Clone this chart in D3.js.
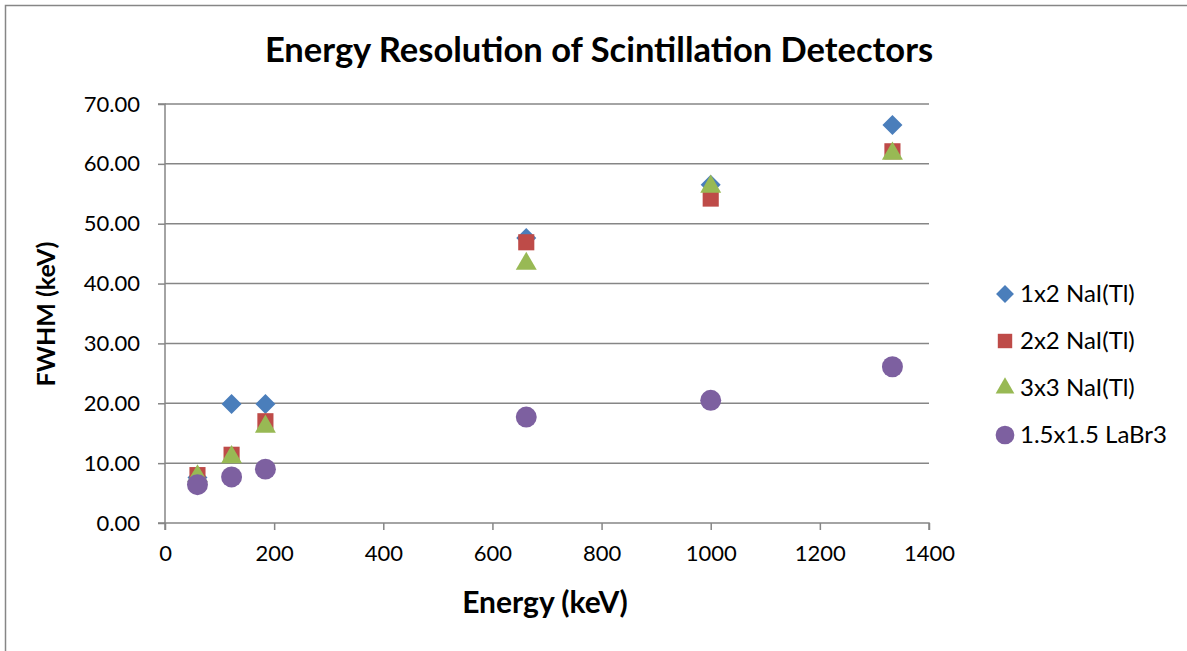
<!DOCTYPE html>
<html><head><meta charset="utf-8">
<script src="https://cdn.jsdelivr.net/npm/d3@7"></script>
<style>body{margin:0;background:#fff}svg{display:block}text{font-family:Lato,"Open Sans",sans-serif}</style>
</head><body><svg id="c" width="1187" height="651"></svg>
<script>
const title = "Energy Resolution of Scintillation Detectors";
const xLabel = "Energy (keV)";
const yLabel = "FWHM (keV)";
const energies = [59.5, 122, 184, 662, 1000, 1333];
const seriesNames = ["1x2 NaI(Tl)", "2x2 NaI(Tl)", "3x3 NaI(Tl)", "1.5x1.5 LaBr3"];
const nai1x2 = [7.6, 19.9, 19.9, 47.6, 56.5, 66.5];
const nai2x2 = [8.0, 11.4, 17.0, 46.9, 54.2, 62.1];
const nai3x3 = [7.8, 11.0, 16.1, 43.3, 56.2, 61.7];
const labr3 = [6.4, 7.7, 9.0, 17.7, 20.5, 26.1];
const xTicks = [0, 200, 400, 600, 800, 1000, 1200, 1400];
const yTicks = [0, 10, 20, 30, 40, 50, 60, 70];

const series = [nai1x2, nai2x2, nai3x3, labr3];
const colors = ["#4a7ebb", "#be4b48", "#98b954", "#7d60a0"];
const diamond = { draw(ctx, size) { const r = Math.sqrt(size / 2); ctx.moveTo(0, -r); ctx.lineTo(r, 0); ctx.lineTo(0, r); ctx.lineTo(-r, 0); ctx.closePath(); } };
const shapes = [diamond, d3.symbolSquare, d3.symbolTriangle, d3.symbolCircle];
const sizes = [200, 260, 190, 345];

const svg = d3.select("#c");
const pL = 165, pR = 929, pT = 104, pB = 523;
const x = d3.scaleLinear().domain([0, 1400]).range([pL, pR]);
const y = d3.scaleLinear().domain([0, 70]).range([pB, pT]);

// chart border
svg.append("path").attr("d", "M5.5,651 V5.5 H1187").attr("fill", "none").attr("stroke", "#868686").attr("stroke-width", 1.5);

// gridlines
svg.append("g").selectAll("line").data(yTicks.filter(d => d > 0)).join("line")
  .attr("x1", pL).attr("x2", pR).attr("y1", d => y(d)).attr("y2", d => y(d))
  .attr("stroke", "#868686").attr("stroke-width", 1.5);

// axes
const yAxis = d3.axisLeft(y).tickValues(yTicks).tickFormat(d3.format(".2f")).tickSize(7).tickPadding(18);
const gy = svg.append("g").attr("transform", `translate(${pL},0)`).call(yAxis);
const xAxis = d3.axisBottom(x).tickValues(xTicks).tickFormat(d3.format("d")).tickSize(7).tickPadding(15);
const gx = svg.append("g").attr("transform", `translate(0,${pB})`).call(xAxis);
[gx, gy].forEach(g => {
  g.select(".domain").attr("stroke", "#868686").attr("stroke-width", 1.5);
  g.selectAll(".tick line").attr("stroke", "#868686").attr("stroke-width", 1.5);
  g.selectAll(".tick text").attr("fill", "#000").style("font-size", "22px").style("font-family", "Lato,sans-serif");
});
gy.select(".domain").attr("d", `M-7,${pB}H0V${pT}H-7`);
gx.select(".domain").attr("d", `M${pL},7V0H${pR}V7`);

// points
series.forEach((s, i) => {
  svg.append("g").selectAll("path").data(s).join("path")
    .attr("transform", (d, j) => `translate(${x(energies[j])},${y(d)})`)
    .attr("d", d3.symbol().type(shapes[i]).size(sizes[i]))
    .attr("fill", colors[i]);
});

// title & labels
svg.append("text").attr("x", 599).attr("y", 62).attr("text-anchor", "middle")
  .style("font-size", "34.5px").style("font-weight", "bold").text(title);
svg.append("text").attr("x", 545).attr("y", 613).attr("text-anchor", "middle")
  .style("font-size", "30px").style("font-weight", "bold").text(xLabel);
svg.append("text").attr("transform", "translate(55,314) rotate(-90)").attr("text-anchor", "middle")
  .style("font-size", "25px").style("font-weight", "bold").text(yLabel);

// legend
const lg = svg.append("g");
seriesNames.forEach((n, i) => {
  const yy = 294 + i * 47;
  lg.append("path").attr("transform", `translate(1005,${yy})`)
    .attr("d", d3.symbol().type(shapes[i]).size(sizes[i] * 0.8)).attr("fill", colors[i]);
  lg.append("text").attr("x", 1020).attr("y", yy + 8).style("font-size", "24px").text(n);
});
</script></body></html>
